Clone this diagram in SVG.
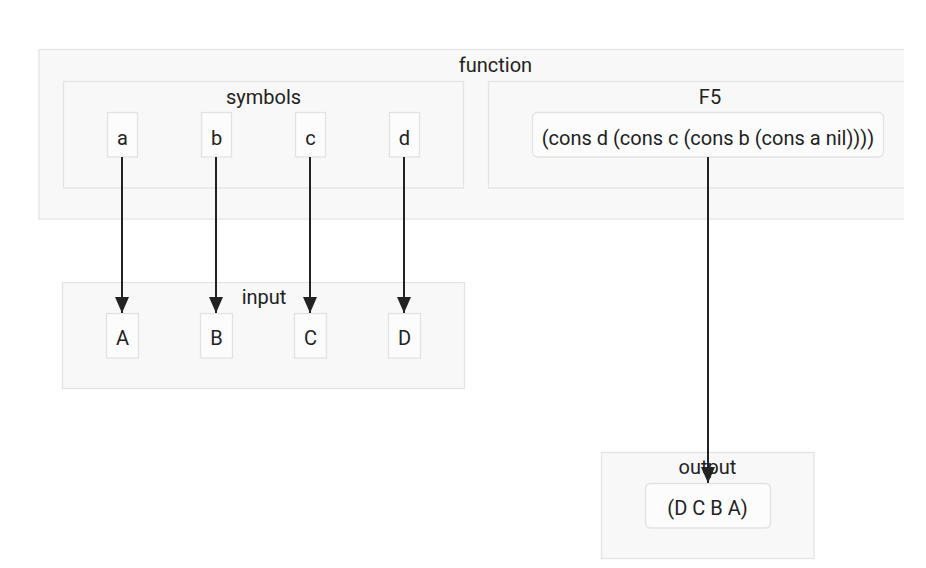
<svg xmlns="http://www.w3.org/2000/svg" width="926" height="568" viewBox="0 0 926 568">
<style>
.cl{fill:#f8f8f8;stroke:#e4e4e4;stroke-width:1.3}
.nd{fill:#fcfcfc;stroke:#e2e2e2;stroke-width:1.3}
.t{font-family:Roboto,"Noto Sans CJK SC",sans-serif;font-size:20px;fill:#222;text-anchor:middle}
.e{fill:none;stroke:#222;stroke-width:2}
</style>
<defs>
<marker id="ar" viewBox="0 0 16 14" refX="16" refY="7" markerWidth="16" markerHeight="14" markerUnits="userSpaceOnUse" orient="auto">
<path d="M0,0 L16,7 L0,14 Z" fill="#222"/>
</marker>
<clipPath id="vp"><rect x="0" y="0" width="904" height="568"/></clipPath>
</defs>
<rect width="926" height="568" fill="#ffffff"/>
<g id="function" clip-path="url(#vp)">
<rect class="cl" x="39" y="49.5" width="900" height="169.5"/>
<text class="t" x="495.5" y="72">function</text>
</g>
<g id="symbols">
<rect class="cl" x="63.5" y="81.5" width="400" height="106.5"/>
<text class="t" x="263.5" y="103.5">symbols</text>
</g>
<g id="F5" clip-path="url(#vp)">
<rect class="cl" x="488.5" y="81.5" width="450" height="106.5"/>
<text class="t" x="710" y="103.5">F5</text>
</g>
<g id="input">
<rect class="cl" x="62.5" y="282.5" width="402" height="106"/>
<text class="t" x="264" y="303.5">input</text>
</g>
<g id="output">
<rect class="cl" x="601.5" y="452.5" width="212.5" height="106"/>
<text class="t" x="707.5" y="473.5">output</text>
</g>
<g id="node-a"><rect class="nd" x="107.5" y="112.5" width="30" height="44.5"/><text class="t" x="122.5" y="144.5">a</text></g>
<g id="node-b"><rect class="nd" x="201.5" y="112.5" width="30" height="44.5"/><text class="t" x="216.5" y="144.5">b</text></g>
<g id="node-c"><rect class="nd" x="295.5" y="112.5" width="30" height="44.5"/><text class="t" x="310.5" y="144.5">c</text></g>
<g id="node-d"><rect class="nd" x="389.5" y="112.5" width="30" height="44.5"/><text class="t" x="404.5" y="144.5">d</text></g>
<g id="node-expr"><rect class="nd" x="532.5" y="112.5" width="351" height="44.5" rx="5"/><text class="t" x="708" y="144.5">(cons d (cons c (cons b (cons a nil))))</text></g>
<g id="node-A"><rect class="nd" x="106.5" y="313.5" width="32" height="44.5"/><text class="t" x="122.5" y="345">A</text></g>
<g id="node-B"><rect class="nd" x="200.5" y="313.5" width="32" height="44.5"/><text class="t" x="216.5" y="345">B</text></g>
<g id="node-C"><rect class="nd" x="294.5" y="313.5" width="32" height="44.5"/><text class="t" x="310.5" y="345">C</text></g>
<g id="node-D"><rect class="nd" x="388.5" y="313.5" width="32" height="44.5"/><text class="t" x="404.5" y="345">D</text></g>
<g id="node-result"><rect class="nd" x="645.5" y="483.5" width="125" height="44.5" rx="5"/><text class="t" x="707.5" y="515">(D C B A)</text></g>
<g id="connectors">
<line class="e" x1="122" y1="157" x2="122" y2="313" marker-end="url(#ar)"/>
<line class="e" x1="216" y1="157" x2="216" y2="313" marker-end="url(#ar)"/>
<line class="e" x1="310" y1="157" x2="310" y2="313" marker-end="url(#ar)"/>
<line class="e" x1="404" y1="157" x2="404" y2="313" marker-end="url(#ar)"/>
<line class="e" x1="708" y1="157" x2="708" y2="483" marker-end="url(#ar)"/>
</g>
</svg>
